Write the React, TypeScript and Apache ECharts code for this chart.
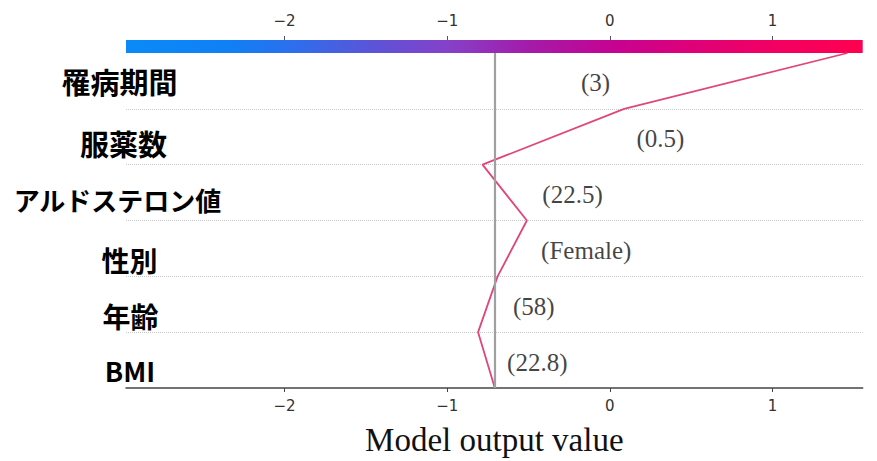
import React, { useEffect, useRef } from "react";
import * as echarts from "echarts";

// Features from bottom row to top row
const FEATURES = ["BMI", "年齢", "性別", "アルドステロン値", "服薬数", "罹病期間"];
const FEATURE_VALUES = ["(22.8)", "(58)", "(Female)", "(22.5)", "(0.5)", "(3)"];
const VALUE_LABEL_X = [-0.446, -0.467, -0.145, -0.229, 0.311, -0.088];
// cumulative model output at each row boundary, bottom (0) to top (6)
const CUMULATIVE_OUTPUT = [-0.707, -0.81, -0.69, -0.51, -0.783, 0.088, 1.462];
const BASE_VALUE = -0.707;
const X_TICKS = [-2, -1, 0, 1];
const X_MIN = -2.975;
const X_MAX = 1.555;

// per-label tweaks for the left feature names (bottom to top)
const NAME_FONT_SIZES = [27, 28, 28, 26, 29, 29];
const NAME_SHIFT_Y = [10, 12, 12, 6.5, 6.5, 0];
const NAME_SHIFT_X = [5, 5.5, 4.5, -7.5, -1.5, -5.5];

const fmtTick = (v: number) => (v < 0 ? "\u2212" + Math.abs(v) : String(v));

export default function App() {
  const ref = useRef<HTMLDivElement>(null);
  useEffect(() => {
    document.body.style.margin = "0";
    if (!ref.current) return;
    const chart = echarts.init(ref.current, null, { renderer: "svg" });

    const rich: Record<string, any> = {};
    FEATURES.forEach((_, i) => {
      const sx = NAME_SHIFT_X[i];
      const sy = NAME_SHIFT_Y[i];
      rich["r" + i] = {
        fontSize: NAME_FONT_SIZES[i],
        fontWeight: "bold",
        fontFamily: "Noto Sans CJK JP",
        color: "#000",
        padding: [sy * 2, sx < 0 ? -sx * 2 : 0, 0, sx > 0 ? sx * 2 : 0],
      };
    });

    const gradient = new echarts.graphic.LinearGradient(0, 0, 1, 0, [
      { offset: 0, color: "#0a8af8" },
      { offset: 0.14, color: "#1080f4" },
      { offset: 0.22, color: "#2a70ee" },
      { offset: 0.33, color: "#5a55d8" },
      { offset: 0.44, color: "#8640c8" },
      { offset: 0.55, color: "#a51aa8" },
      { offset: 0.66, color: "#c50392" },
      { offset: 0.77, color: "#df0078" },
      { offset: 0.88, color: "#f20062" },
      { offset: 1, color: "#ff0050" },
    ]);

    chart.setOption({
      animation: false,
      grid: [
        { left: 126, top: 53, width: 736.7, height: 338 },
        {
          left: 126,
          top: 40,
          width: 736.7,
          height: 13,
          show: true,
          backgroundColor: gradient,
          borderWidth: 0,
        },
      ],
      xAxis: [
        {
          type: "value",
          gridIndex: 0,
          position: "bottom",
          min: X_MIN,
          max: X_MAX,
          splitLine: { show: false },
          axisLine: { onZero: false, lineStyle: { color: "#444", width: 1.5 } },
          axisTick: {
            show: true,
            length: 4,
            customValues: X_TICKS,
            lineStyle: { color: "#444" },
          },
          axisLabel: {
            customValues: X_TICKS,
            formatter: fmtTick,
            margin: 10,
            fontSize: 15,
            color: "#333",
            fontFamily: "DejaVu Sans",
          },
          name: "Model output value",
          nameLocation: "middle",
          nameGap: 35,
          nameTextStyle: {
            fontFamily: "Liberation Serif",
            fontSize: 33,
            color: "#111",
          },
        },
        {
          type: "value",
          gridIndex: 1,
          position: "top",
          min: X_MIN,
          max: X_MAX,
          splitLine: { show: false },
          axisLine: { show: false, onZero: false },
          axisTick: {
            show: true,
            length: 4,
            customValues: X_TICKS,
            lineStyle: { color: "#555" },
          },
          axisLabel: {
            customValues: X_TICKS,
            formatter: fmtTick,
            margin: 12,
            fontSize: 15,
            color: "#333",
            fontFamily: "DejaVu Sans",
          },
        },
      ],
      yAxis: [
        {
          type: "value",
          gridIndex: 0,
          position: "left",
          min: 0,
          max: 6,
          interval: 1,
          axisLine: { show: false, onZero: false },
          axisTick: { show: false },
          axisLabel: { show: false },
          splitLine: {
            show: true,
            showMinLine: false,
            showMaxLine: false,
            lineStyle: { color: "#c8c8c8", type: "dotted", width: 1 },
          },
        },
        {
          type: "category",
          gridIndex: 0,
          position: "left",
          data: FEATURES,
          boundaryGap: true,
          axisLine: { show: false, onZero: false },
          axisTick: { show: false },
          splitLine: { show: false },
          axisLabel: {
            align: "center",
            margin: 1,
            formatter: (v: string, i: number) => `{r${i}|${v}}`,
            rich,
          },
        },
        { type: "value", gridIndex: 1, show: false, min: 0, max: 1 },
      ],
      series: [
        {
          type: "line",
          xAxisIndex: 0,
          yAxisIndex: 0,
          data: [],
          z: 1,
          markLine: {
            silent: true,
            symbol: "none",
            label: { show: false },
            lineStyle: { color: "#a0a0a0", width: 2.2, type: "solid" },
            data: [{ xAxis: BASE_VALUE }],
          },
        },
        {
          type: "line",
          xAxisIndex: 0,
          yAxisIndex: 0,
          data: CUMULATIVE_OUTPUT.map((v, i) => [v, i]),
          symbol: "none",
          z: 3,
          lineStyle: { color: "#e0457b", width: 1.8 },
        },
        {
          type: "scatter",
          xAxisIndex: 0,
          yAxisIndex: 0,
          symbolSize: 0,
          z: 4,
          data: FEATURE_VALUES.map((t, i) => ({
            name: t,
            value: [VALUE_LABEL_X[i], i + 0.5],
          })),
          label: {
            show: true,
            position: "inside",
            offset: [0, 2],
            formatter: (p: any) => p.name,
            fontFamily: "Liberation Serif",
            fontSize: 25,
            color: "#111",
          },
        },
      ],
    });
    return () => chart.dispose();
  }, []);
  return <div ref={ref} style={{ width: 877, height: 461 }} />;
}
